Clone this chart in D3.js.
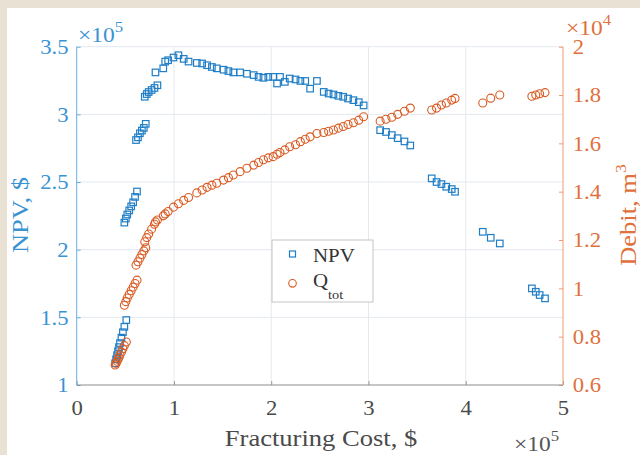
<!DOCTYPE html>
<html><head><meta charset="utf-8">
<script src="https://cdn.jsdelivr.net/npm/d3@7"></script>
<style>body{margin:0;background:#fff;overflow:hidden} svg{display:block}</style>
</head><body>
<svg id="chart" width="640" height="455"></svg>
<script>
// Fracturing cost (×1e5 $)
const cost = [
  0.395,0.405,0.415,0.425,0.435,0.445,0.46,0.475,0.49,0.51,
  0.49,0.505,0.52,0.54,0.56,0.58,0.60,0.62,
  0.61,0.63,0.65,0.67,0.69,0.71,
  0.70,0.72,0.74,0.77,0.80,0.83,
  0.81,0.89,0.91,0.94,0.995,1.046,1.10,1.15,1.235,
  1.29,1.34,1.39,1.44,1.51,1.56,1.61,1.68,1.75,1.82,1.87,1.92,1.97,2.02,2.06,2.09,
  2.14,2.19,2.25,2.30,2.35,2.40,2.47,2.54,2.59,2.64,2.69,2.74,2.79,2.845,2.90,2.95,
  3.12,3.18,3.24,3.30,3.37,3.43,
  3.65,3.70,3.75,3.80,3.856,3.89,
  4.175,4.257,4.35,
  4.68,4.72,4.76,4.815
];
// NPV (×1e5 $)
const npv = [
  1.16,1.19,1.22,1.25,1.28,1.31,1.35,1.39,1.43,1.48,
  2.20,2.23,2.26,2.29,2.32,2.35,2.39,2.43,
  2.81,2.83,2.86,2.88,2.90,2.93,
  3.13,3.15,3.165,3.18,3.195,3.215,
  3.31,3.34,3.39,3.40,3.42,3.437,3.41,3.39,3.38,
  3.376,3.363,3.35,3.34,3.33,3.32,3.31,3.31,3.30,3.29,3.277,3.27,3.277,3.277,3.228,3.277,
  3.24,3.265,3.258,3.247,3.247,3.19,3.247,3.166,3.154,3.147,3.137,3.13,3.117,3.105,3.09,3.066,
  2.883,2.87,2.847,2.824,2.80,2.77,
  2.527,2.50,2.485,2.465,2.448,2.428,
  2.132,2.088,2.046,
  1.714,1.689,1.665,1.64
];
// Q_tot debit (×1e4 m^3)
const qtot = [
  0.683,0.690,0.698,0.706,0.715,0.725,0.737,0.750,0.763,0.778,
  0.93,0.945,0.96,0.975,0.99,1.005,1.02,1.034,
  1.096,1.11,1.125,1.14,1.155,1.168,
  1.193,1.21,1.225,1.245,1.265,1.283,
  1.275,1.30,1.308,1.318,1.336,1.35,1.364,1.376,1.395,
  1.407,1.418,1.427,1.435,1.448,1.458,1.469,1.483,1.497,1.51,1.521,1.532,1.54,1.545,1.555,1.562,
  1.573,1.586,1.594,1.607,1.617,1.627,1.641,1.645,1.65,1.655,1.663,1.67,1.678,1.685,1.696,1.71,
  1.692,1.70,1.708,1.72,1.733,1.746,
  1.738,1.746,1.759,1.767,1.779,1.786,
  1.767,1.787,1.80,
  1.795,1.80,1.805,1.81
];
const xTicks = [0,1,2,3,4,5];
const yLeftTicks = [1,1.5,2,2.5,3,3.5];
const yRightTicks = [0.6,0.8,1,1.2,1.4,1.6,1.8,2];
const seriesNames = ["NPV","Q"];

const FONT = "'Liberation Serif','Times New Roman',Times,serif";
const BLUE = "#1f7ec6", BLUE_T = "#3a93d3", BLUE_AX = "#6aaee0";
const ORANGE = "#d95a22", ORANGE_T = "#e0703c", ORANGE_AX = "#ee9a72";

const svg = d3.select("#chart");
// background frame
svg.append("rect").attr("width",640).attr("height",455).attr("fill","#e9e2d4");
svg.append("rect").attr("x",7).attr("y",8).attr("width",633).attr("height",447).attr("fill","#ffffff");

const L = 76.7, R = 563, T = 46.7, B = 385;
const x = d3.scaleLinear().domain([0,5]).range([L,R]);
const yL = d3.scaleLinear().domain([1,3.5]).range([B,T]);
const yR = d3.scaleLinear().domain([0.6,2]).range([B,T]);

// grid
const grid = svg.append("g").attr("stroke","#e4e9f0").attr("stroke-width",1);
xTicks.filter(d=>d>0&&d<5).forEach(d=>{
  grid.append("line").attr("x1",x(d)).attr("x2",x(d)).attr("y1",T).attr("y2",B);
});
yLeftTicks.filter(d=>d>1).forEach(d=>{
  grid.append("line").attr("x1",L).attr("x2",R).attr("y1",yL(d)).attr("y2",yL(d));
});

// axes
const fmt = d => String(d);
const gL = svg.append("g").attr("transform",`translate(${L},0)`)
  .call(d3.axisLeft(yL).tickValues(yLeftTicks).tickFormat(fmt).tickSizeInner(-4).tickSizeOuter(0).tickPadding(7.5));
const gR = svg.append("g").attr("transform",`translate(${R},0)`)
  .call(d3.axisRight(yR).tickValues(yRightTicks).tickFormat(fmt).tickSizeInner(-4).tickSizeOuter(0).tickPadding(9));
const gB = svg.append("g").attr("transform",`translate(0,${B})`)
  .call(d3.axisBottom(x).tickValues(xTicks).tickFormat(fmt).tickSizeInner(-4).tickSizeOuter(0).tickPadding(15));

[gL,gR,gB].forEach(g=>{
  g.select(".domain").remove();
  g.selectAll("text").attr("font-family",FONT).attr("font-size",21).attr("transform","scale(1.08,1)");
});
gL.selectAll("line").attr("stroke",BLUE_AX);
gL.selectAll("text").attr("fill",BLUE_T);
gR.selectAll("line").attr("stroke",ORANGE_AX);
gR.selectAll("text").attr("fill",ORANGE_T);
gB.selectAll("line").attr("stroke","#999");
gB.selectAll("text").attr("fill","#4a4a4a");

// axis lines
svg.append("line").attr("x1",L).attr("x2",R).attr("y1",B).attr("y2",B).attr("stroke","#8c8c8c");
svg.append("line").attr("x1",L).attr("x2",L).attr("y1",T).attr("y2",B).attr("stroke",BLUE_AX);
svg.append("line").attr("x1",R).attr("x2",R).attr("y1",T).attr("y2",B).attr("stroke",ORANGE_AX);

// data
const s = 6.5;
svg.append("g").selectAll("rect").data(cost).join("rect")
  .attr("x",(d,i)=>x(d)-s/2).attr("y",(d,i)=>yL(npv[i])-s/2)
  .attr("width",s).attr("height",s)
  .attr("fill","none").attr("stroke",BLUE).attr("stroke-width",1.2);
svg.append("g").selectAll("circle").data(cost).join("circle")
  .attr("cx",d=>x(d)).attr("cy",(d,i)=>yR(qtot[i])).attr("r",4)
  .attr("fill","none").attr("stroke",ORANGE).attr("stroke-width",1.1);

// exponent labels
function expo(xp, yp, e, color){
  const t = svg.append("text").attr("transform",`translate(${xp},${yp}) scale(1.12,1)`)
    .attr("font-family",FONT).attr("font-size",21).attr("fill",color);
  t.append("tspan").text("\u00d710");
  t.append("tspan").attr("font-size",15).attr("dy",-10).text(e);
}
expo(78, 42, "5", BLUE_T);
expo(566, 35, "4", ORANGE_T);
expo(514, 451, "5", "#555");

// axis labels
svg.append("text").attr("transform","translate(321,446) scale(1.18,1)")
  .attr("text-anchor","middle").attr("font-family",FONT).attr("font-size",22.5)
  .attr("fill","#4a4a4a").text("Fracturing Cost, $");
svg.append("text").attr("transform","translate(28,215) rotate(-90) scale(1.18,1)")
  .attr("text-anchor","middle").attr("font-family",FONT).attr("font-size",22.5)
  .attr("fill",BLUE_T).text("NPV, $");
const dl = svg.append("text").attr("transform","translate(636,215) rotate(-90) scale(1.18,1)")
  .attr("text-anchor","middle").attr("font-family",FONT).attr("font-size",22.5)
  .attr("fill",ORANGE_T);
dl.append("tspan").text("Debit, m");
dl.append("tspan").attr("font-size",15).attr("dy",-10).text("3");

// legend
const lg = svg.append("g");
lg.append("rect").attr("x",272).attr("y",240).attr("width",101).attr("height",62)
  .attr("fill","#fff").attr("stroke","#c4c4c4").attr("stroke-width",1);
lg.append("rect").attr("x",292.5-3).attr("y",254-3).attr("width",6).attr("height",6)
  .attr("fill","none").attr("stroke",BLUE).attr("stroke-width",1.2);
lg.append("circle").attr("cx",292.5).attr("cy",283.3).attr("r",3.8)
  .attr("fill","none").attr("stroke",ORANGE).attr("stroke-width",1.1);
lg.append("text").attr("transform","translate(313,261.5) scale(1.1,1)")
  .attr("font-family",FONT).attr("font-size",19).attr("fill","#333").text(seriesNames[0]);
const qt = lg.append("text").attr("transform","translate(313,287) scale(1.1,1)")
  .attr("font-family",FONT).attr("font-size",19).attr("fill","#333");
qt.append("tspan").text(seriesNames[1]);
qt.append("tspan").attr("font-size",13).attr("dy",12).text("tot");
</script>
</body></html>
